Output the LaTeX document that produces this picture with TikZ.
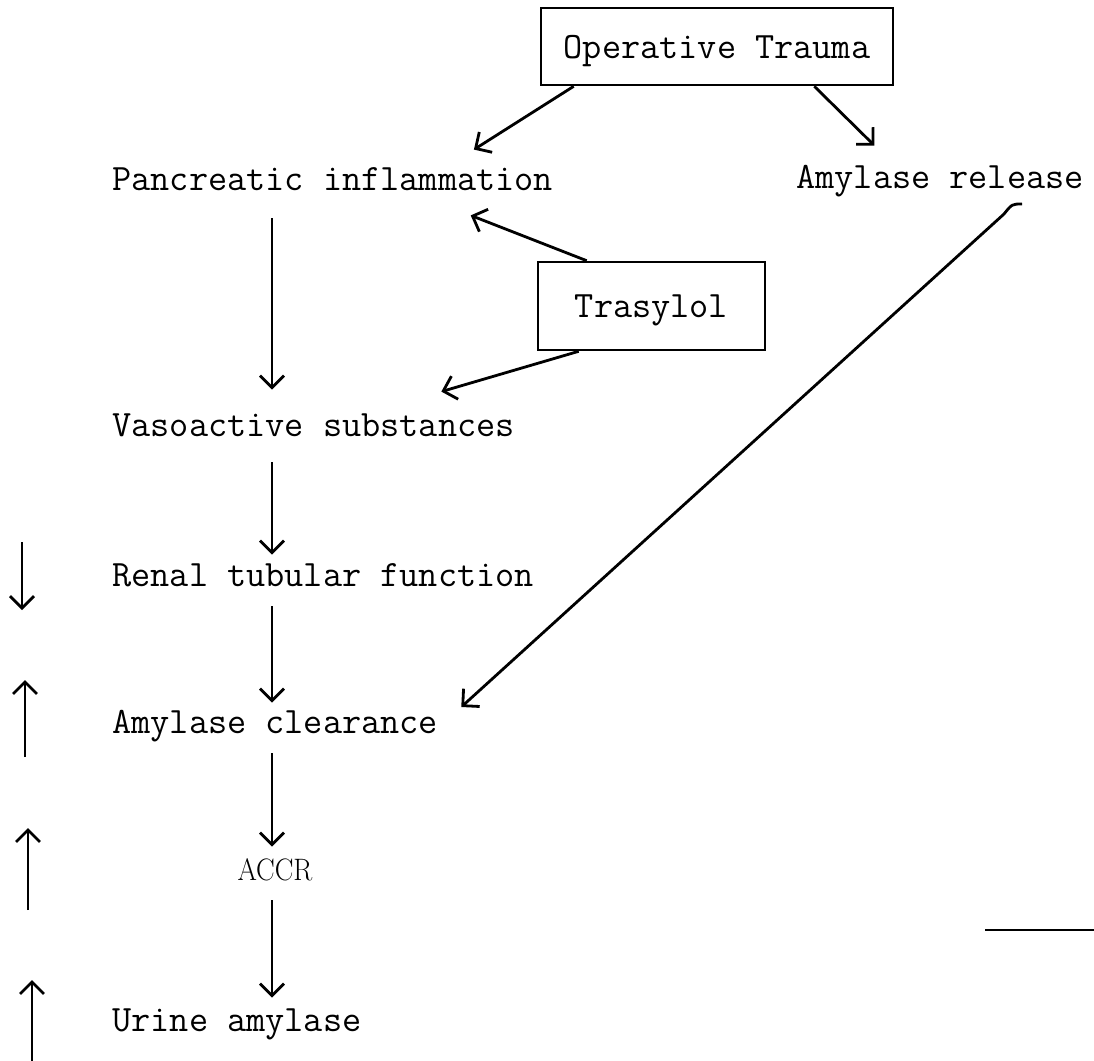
\documentclass[tikz,border=0pt]{standalone}
\usepackage{tikz}
\usetikzlibrary{arrows.meta, positioning}
\newcommand{\tyfont}{\fontsize{18.6}{22}\selectfont\ttfamily}
\tikzstyle{box} = [rectangle, draw=black, line width=1.3pt, inner sep=0pt, text height=11.5pt, text depth=0pt, text centered, font=\tyfont]
\tikzstyle{txt} = [inner sep=0pt, text height=11.5pt, text depth=4pt, font=\tyfont]
\tikzstyle{edge} = [line width=1.4pt, -{Straight Barb[length=6pt,width=12pt]}]
\tikzstyle{down} = [edge, shorten <=6pt, shorten >=5pt]

\begin{document}
\begin{tikzpicture}
\useasboundingbox (0,0) rectangle (547pt,-530.5pt);

\node (0) [box, minimum width=176pt, minimum height=38.5pt] at (358.5pt,-23.25pt) {Operative Trauma};
\node (1) [txt, anchor=base west] at (56pt,-95pt) {Pancreatic inflammation};
\node (2) [txt, right=342pt of 1.base west, anchor=base west, yshift=1pt] {Amylase release};
\node (3) [box, minimum width=113.5pt, minimum height=44pt] at (325.75pt,-153pt) {Trasylol};
\node (4) [txt, below=123pt of 1.base west, anchor=base west] {Vasoactive substances};
\node (5) [txt, below=75pt of 4.base west, anchor=base west] {Renal tubular function};
\node (6) [txt, below=73.5pt of 5.base west, anchor=base west] {Amylase clearance};
\node (7) [txt, font=\fontsize{15.5}{18}\selectfont\rmfamily, below=73.5pt of 6.base west, anchor=base, xshift=81.5pt] {\scalebox{0.9}[1]{ACCR}};
\node (8) [txt, below=149pt of 6.base west, anchor=base west] {Urine amylase};

\coordinate (s) at (136pt,0pt);
\coordinate (h) at (511pt,-102pt);

\draw [edge] ([xshift=17pt]0.south west) -- ([xshift=70.6pt,yshift=8.5pt]1.north);
\draw [edge] ([xshift=-40pt]0.south east) -- ([xshift=-32.8pt,yshift=9.5pt]2.north);
\draw [edge] ([xshift=25pt]3.north west) -- ([xshift=69pt,yshift=-8.5pt]1.south);
\draw [edge] ([xshift=21pt]3.south west) -- ([xshift=63.9pt,yshift=10.5pt]4.north);
\draw [edge] (h) .. controls (506pt,-102pt) .. (502pt,-107pt) -- ([xshift=11.4pt,yshift=9.25pt]6.east);

\draw [down, shorten <=10pt, shorten >=11.5pt] (1.south -| s) -- (4.north -| s);
\draw [down, shorten <=9pt, shorten >=4pt] (4.south -| s) -- (5.north -| s);
\draw [down, shorten >=3.5pt] (5.south -| s) -- (6.north -| s);
\draw [down] (6.south -| s) -- (7.north -| s);
\draw [down] (7.south -| s) -- (8.north -| s);

% up and down marks on the left
\coordinate (a0) at (11pt,-271pt);
\coordinate (b0) at (11pt,-305pt);
\coordinate (a1) at (12.5pt,-378.5pt);
\coordinate (b1) at (12.5pt,-340pt);
\coordinate (a2) at (14pt,-455pt);
\coordinate (b2) at (14pt,-414pt);
\coordinate (a3) at (16pt,-530.5pt);
\coordinate (b3) at (16pt,-490pt);
\draw [edge] (a0) -- (b0);
\draw [edge] (a1) -- (b1);
\draw [edge] (a2) -- (b2);
\draw [edge] (a3) -- (b3);

\coordinate (r0) at (492.5pt,-465pt);
\coordinate (r1) at (547pt,-465pt);
\draw [line width=0.8pt] (r0) -- (r1);

\end{tikzpicture}
\end{document}
